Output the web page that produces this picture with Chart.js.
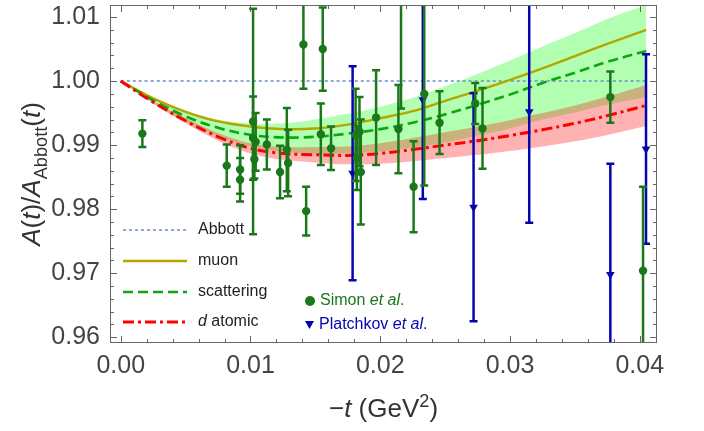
<!DOCTYPE html>
<html>
<head>
<meta charset="utf-8">
<script src="https://cdn.jsdelivr.net/npm/chart.js@4.4.0/dist/chart.umd.min.js"></script>
<style>
  html, body { margin: 0; padding: 0; background: #fff; }
  #wrap { width: 704px; height: 431px; }
</style>
</head>
<body>
<div id="wrap"><canvas id="chart" width="704" height="431"></canvas></div>
<script>
// ---------- data ----------
const T_GRID = [0, 0.0025, 0.005, 0.0075, 0.01, 0.0125, 0.015, 0.0175, 0.02,
                0.0225, 0.025, 0.0275, 0.03, 0.0325, 0.035, 0.0375, 0.0405];

const ABBOTT     = [1, 1, 1, 1, 1, 1, 1, 1, 1, 1, 1, 1, 1, 1, 1, 1, 1];
const MUON       = [1.0000, 0.9973, 0.9952, 0.9937, 0.9929, 0.9925, 0.9926, 0.9932, 0.9942,
                    0.9953, 0.9969, 0.9985, 1.0002, 1.0020, 1.0039, 1.0058, 1.0080];
const SCATTER    = [1.0000, 0.9970, 0.9945, 0.9927, 0.9916, 0.9912, 0.9913, 0.9918, 0.9925,
                    0.9935, 0.9948, 0.9963, 0.9979, 0.9997, 1.0013, 1.0030, 1.0047];
const SCATTER_HI = [1.0000, 0.9974, 0.9954, 0.9940, 0.9934, 0.9934, 0.9940, 0.9949, 0.9960,
                    0.9974, 0.9992, 1.0011, 1.0032, 1.0054, 1.0075, 1.0097, 1.0119];
const SCATTER_LO = [1.0000, 0.9966, 0.9936, 0.9914, 0.9898, 0.9890, 0.9886, 0.9887, 0.9890,
                    0.9896, 0.9904, 0.9915, 0.9926, 0.9940, 0.9951, 0.9963, 0.9975];
const DATOM      = [1.0000, 0.9967, 0.9938, 0.9913, 0.9895, 0.9887, 0.9885, 0.9884, 0.9887,
                    0.9893, 0.9900, 0.9907, 0.9915, 0.9924, 0.9934, 0.9946, 0.9962];
const DATOM_HI   = [1.0000, 0.9969, 0.9942, 0.9919, 0.9903, 0.9897, 0.9897, 0.9898, 0.9903,
                    0.9911, 0.9920, 0.9929, 0.9939, 0.9950, 0.9962, 0.9976, 0.9994];
const DATOM_LO   = [1.0000, 0.9965, 0.9934, 0.9907, 0.9887, 0.9877, 0.9873, 0.9870, 0.9871,
                    0.9875, 0.9880, 0.9885, 0.9891, 0.9898, 0.9906, 0.9916, 0.9930];

// Simon et al. (t, value, error)
const SIMON_T   = [0.00167, 0.00817, 0.0092, 0.0092, 0.0102, 0.0104, 0.0102, 0.0103, 0.01126,
                   0.01228, 0.0128, 0.0129, 0.01408, 0.01429, 0.01542, 0.01557, 0.01621,
                   0.0181, 0.0182, 0.0184, 0.0185, 0.01968, 0.0214, 0.0216, 0.02257,
                   0.02339, 0.02457, 0.02732, 0.02788, 0.03773, 0.04025];
const SIMON_V   = [0.9918, 0.9868, 0.9862, 0.9846, 0.9937, 0.9905, 0.9911, 0.9878, 0.9901,
                   0.9858, 0.9893, 0.9872, 1.0057, 0.9797, 0.9917, 1.0050, 0.9895,
                   0.9916, 0.9880, 0.9921, 0.9858, 0.9943, 0.9925, 1.0140, 0.9835,
                   0.9980, 0.9935, 0.9965, 0.9926, 0.9975, 0.9704];
const SIMON_ERR = [0.0021, 0.0033, 0.0038, 0.0034, 0.0176, 0.0045, 0.0065, 0.0030, 0.0039,
                   0.0041, 0.0065, 0.0052, 0.0069, 0.0038, 0.0048, 0.0065, 0.0034,
                   0.0072, 0.0050, 0.0054, 0.0082, 0.0074, 0.0069, 0.0183, 0.0071,
                   0.0143, 0.0049, 0.0032, 0.0063, 0.0040, 0.0131];

// Platchkov et al.
const PLAT_T   = [0.01787, 0.02328, 0.02719, 0.03148, 0.03773, 0.04048];
const PLAT_V   = [0.9856, 0.9971, 0.9803, 0.9952, 0.9698, 0.9894];
const PLAT_ERR = [0.0167, 0.0155, 0.0178, 0.0173, 0.0173, 0.0148];

const X_TICKS = [0, 0.01, 0.02, 0.03, 0.04];
const Y_TICKS = [0.96, 0.97, 0.98, 0.99, 1.00, 1.01];
const MINOR_STEP = 0.002;

// ---------- helpers ----------
const FONT = '"Liberation Sans", Arial, Helvetica, sans-serif';
const GREEN = '#1a781a';
const BLUE = '#0505b0';

function pts(xs, ys){ return xs.map((x,i)=>({x, y: ys[i]})); }

function fontOf(size, italic){ return (italic ? 'italic ' : '') + size + 'px ' + FONT; }

// parts: [text, style] with style '', 'i', 'sub', 'sup'
function richWidth(ctx, parts, size){
  let w = 0;
  parts.forEach(([t, s]) => {
    const sz = (s==='sub'||s==='sup') ? size*0.7 : size;
    ctx.font = fontOf(sz, s==='i');
    w += ctx.measureText(t).width;
  });
  return w;
}
function drawRich(ctx, parts, x, y, size, align){
  let cx = x;
  if(align==='center') cx = x - richWidth(ctx, parts, size)/2;
  parts.forEach(([t, s]) => {
    let sz = size, dy = 0;
    if(s==='sub'){ sz = size*0.7; dy = size*0.25; }
    if(s==='sup'){ sz = size*0.7; dy = -size*0.38; }
    ctx.font = fontOf(sz, s==='i');
    ctx.fillText(t, cx, y + dy);
    cx += ctx.measureText(t).width;
  });
}

// ---------- plugins ----------
const errorBars = {
  id: 'errorBars',
  beforeDatasetDraw(chart, args){
    const ds = chart.data.datasets[args.index];
    if(!ds.errors) return;
    const {ctx, chartArea:a, scales:{x, y}} = chart;
    ctx.save();
    ctx.beginPath(); ctx.rect(a.left, a.top, a.right-a.left, a.bottom-a.top); ctx.clip();
    ctx.strokeStyle = ds.borderColor;
    ctx.lineWidth = 2.5;
    ds.data.forEach((p, i) => {
      const e = ds.errors[i];
      const px = x.getPixelForValue(p.x);
      const y1 = y.getPixelForValue(p.y + e), y2 = y.getPixelForValue(p.y - e);
      ctx.beginPath();
      ctx.moveTo(px, y1); ctx.lineTo(px, y2);
      ctx.moveTo(px-4, y1); ctx.lineTo(px+4, y1);
      ctx.moveTo(px-4, y2); ctx.lineTo(px+4, y2);
      ctx.stroke();
    });
    ctx.restore();
  }
};

const frame = {
  id: 'frame',
  afterDatasetsDraw(chart){
    const {ctx, chartArea:a, scales:{x, y}} = chart;
    ctx.save();
    ctx.strokeStyle = '#666';
    ctx.lineWidth = 1;
    ctx.strokeRect(a.left+0.5, a.top+0.5, a.right-a.left-1, a.bottom-a.top-1);
    ctx.beginPath();
    // x ticks top and bottom
    for(let v = 0; v <= x.max; v += MINOR_STEP){
      const major = X_TICKS.some(t => Math.abs(t-v) < 1e-6);
      const L = major ? 7 : 4;
      const px = Math.round(x.getPixelForValue(v)) + 0.5;
      ctx.moveTo(px, a.bottom); ctx.lineTo(px, a.bottom - L);
      ctx.moveTo(px, a.top); ctx.lineTo(px, a.top + L);
    }
    // y ticks left and right
    for(let v = 0.96; v <= y.max + 1e-9; v += MINOR_STEP){
      const major = Y_TICKS.some(t => Math.abs(t-v) < 1e-6);
      const L = major ? 7 : 4;
      const py = Math.round(y.getPixelForValue(v)) + 0.5;
      ctx.moveTo(a.left, py); ctx.lineTo(a.left + L, py);
      ctx.moveTo(a.right, py); ctx.lineTo(a.right - L, py);
    }
    ctx.stroke();
    ctx.restore();
  },
  afterDraw(chart){
    const {ctx, chartArea:a} = chart;
    const ds = chart.data.datasets;
    ctx.save();
    // axis titles
    ctx.fillStyle = '#333';
    ctx.textBaseline = 'alphabetic';
    drawRich(ctx, [['\u2212',''],['t','i'],[' (GeV',''],['2','sup'],[')','']],
      (a.left + a.right)/2, 417, 26, 'center');
    ctx.save();
    ctx.translate(40, (a.top + a.bottom)/2);
    ctx.rotate(-Math.PI/2);
    drawRich(ctx, [['A','i'],['(',''],['t','i'],[')/',''],['A','i'],['Abbott','sub'],
      ['(',''],['t','i'],[')','']], 0, 0, 26, 'center');
    ctx.restore();

    // line legend
    const rows = [
      ['Abbott', [['Abbott','']], 230],
      ['muon', [['muon','']], 261],
      ['scattering', [['scattering','']], 292],
      ['d atomic', [['d','i'],[' atomic','']], 322]
    ];
    rows.forEach(([lbl, parts, yy]) => {
      const d = ds.find(s => s.label === lbl);
      ctx.save();
      ctx.strokeStyle = d.borderColor;
      ctx.lineWidth = d.borderWidth;
      ctx.setLineDash(d.borderDash || []);
      ctx.beginPath(); ctx.moveTo(123, yy); ctx.lineTo(187, yy); ctx.stroke();
      ctx.restore();
      ctx.fillStyle = '#222';
      ctx.textBaseline = 'middle';
      drawRich(ctx, parts, 198, yy, 16, 'left');
    });

    // data legend
    ctx.fillStyle = GREEN;
    ctx.beginPath(); ctx.arc(310, 301, 5, 0, Math.PI*2); ctx.fill();
    ctx.textBaseline = 'middle';
    drawRich(ctx, [['Simon ',''],['et al','i'],['.','']], 320, 301, 16, 'left');
    ctx.fillStyle = BLUE;
    ctx.beginPath(); ctx.moveTo(305, 321); ctx.lineTo(314, 321); ctx.lineTo(309.5, 329); ctx.closePath(); ctx.fill();
    drawRich(ctx, [['Platchkov ',''],['et al','i'],['.','']], 319, 325, 16, 'left');
    ctx.restore();
  }
};

// ---------- chart ----------
const lineBase = { pointRadius: 0, tension: 0.35, fill: false };

new Chart(document.getElementById('chart'), {
  type: 'line',
  data: {
    datasets: [
      { ...lineBase, label: 'scatBandHi', data: pts(T_GRID, SCATTER_HI), borderWidth: 0,
        fill: '+1', backgroundColor: 'rgba(0,255,0,0.3)', order: 9 },
      { ...lineBase, label: 'scatBandLo', data: pts(T_GRID, SCATTER_LO), borderWidth: 0, order: 9 },
      { ...lineBase, label: 'datomBandHi', data: pts(T_GRID, DATOM_HI), borderWidth: 0,
        fill: '+1', backgroundColor: 'rgba(255,0,0,0.3)', order: 8 },
      { ...lineBase, label: 'datomBandLo', data: pts(T_GRID, DATOM_LO), borderWidth: 0, order: 8 },
      { ...lineBase, label: 'Abbott', data: pts(T_GRID, ABBOTT), borderColor: '#6a8bc9',
        borderWidth: 1.6, borderDash: [3, 3], order: 6 },
      { ...lineBase, label: 'muon', data: pts(T_GRID, MUON), borderColor: '#b3a600',
        borderWidth: 2.4, order: 5 },
      { ...lineBase, label: 'scattering', data: pts(T_GRID, SCATTER), borderColor: '#10a510',
        borderWidth: 2.6, borderDash: [10, 5], order: 4 },
      { ...lineBase, label: 'd atomic', data: pts(T_GRID, DATOM), borderColor: '#ff0000',
        borderWidth: 3, borderDash: [11, 4, 3, 4], order: 3 },
      { type: 'scatter', label: 'Platchkov', data: pts(PLAT_T, PLAT_V), errors: PLAT_ERR,
        borderColor: BLUE, backgroundColor: BLUE, pointStyle: 'triangle', rotation: 180,
        pointRadius: 5, borderWidth: 0, order: 1 },
      { type: 'scatter', label: 'Simon', data: pts(SIMON_T, SIMON_V), errors: SIMON_ERR,
        borderColor: GREEN, backgroundColor: GREEN, pointStyle: 'circle',
        pointRadius: 4.2, borderWidth: 0, order: 0 }
    ]
  },
  options: {
    responsive: false,
    animation: false,
    devicePixelRatio: 1,
    layout: { padding: { left: 0, top: 5, right: 47, bottom: 0 } },
    plugins: { legend: { display: false }, tooltip: { enabled: false } },
    scales: {
      x: {
        type: 'linear',
        min: -0.000825, max: 0.041326,
        grid: { display: false, drawTicks: false },
        border: { display: false },
        afterBuildTicks: s => { s.ticks = X_TICKS.map(v => ({ value: v })); },
        afterFit: s => { s.height = 88; s.paddingLeft = 0; s.paddingRight = 0; },
        ticks: { padding: 8, color: '#444', font: { size: 25, family: FONT },
                 callback: v => v.toFixed(2), maxRotation: 0, autoSkip: false }
      },
      y: {
        type: 'linear',
        min: 0.95911, max: 1.011875,
        grid: { display: false, drawTicks: false },
        border: { display: false },
        afterBuildTicks: s => { s.ticks = Y_TICKS.map(v => ({ value: v })); },
        afterFit: s => { s.width = 110; s.paddingTop = 0; s.paddingBottom = 0; },
        ticks: { padding: 10, color: '#444', font: { size: 25, family: FONT },
                 callback: v => v.toFixed(2), autoSkip: false }
      }
    }
  },
  plugins: [errorBars, frame]
});
</script>
</body>
</html>
